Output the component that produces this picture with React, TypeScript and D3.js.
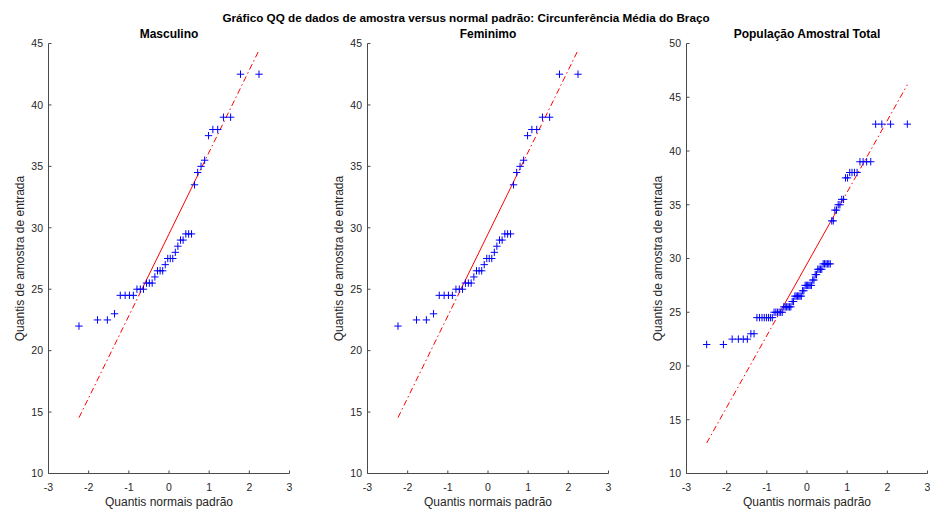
import React from "react";
import * as d3 from "d3";

// Sorted arm circumference samples (cm)
const masculinoValues = [
  22.0, 22.5, 22.5, 23.0, 24.5, 24.5, 24.5, 24.5, 25.0, 25.0,
  25.0, 25.5, 25.5, 25.5, 26.0, 26.5, 26.5, 26.5, 27.0, 27.5,
  27.5, 27.5, 28.0, 28.5, 29.0, 29.0, 29.5, 29.5, 29.5, 33.5,
  34.5, 35.0, 35.5, 37.5, 38.0, 38.0, 39.0, 39.0, 42.5, 42.5,
];
const femininoValues = [
  22.0, 22.5, 22.5, 23.0, 24.5, 24.5, 24.5, 24.5, 25.0, 25.0,
  25.0, 25.5, 25.5, 25.5, 26.0, 26.5, 26.5, 26.5, 27.0, 27.5,
  27.5, 27.5, 28.0, 28.5, 29.0, 29.0, 29.5, 29.5, 29.5, 33.5,
  34.5, 35.0, 35.5, 37.5, 38.0, 38.0, 39.0, 39.0, 42.5, 42.5,
];
// Whole sample: both groups together, sorted
const totalValues = [...masculinoValues, ...femininoValues].sort((a, b) => a - b);

// Standard normal plotting positions, (i - 0.5) / n, for n = 40
const normalQuantiles40 = [
  -2.241, -1.780, -1.534, -1.356, -1.213, -1.092, -0.985, -0.887, -0.798, -0.714,
  -0.636, -0.561, -0.489, -0.419, -0.352, -0.286, -0.221, -0.157, -0.094, -0.031,
  0.031, 0.094, 0.157, 0.221, 0.286, 0.352, 0.419, 0.489, 0.561, 0.636,
  0.714, 0.798, 0.887, 0.985, 1.092, 1.213, 1.356, 1.534, 1.780, 2.241,
];
// ... and for n = 80
const normalQuantiles80 = [
  -2.498, -2.081, -1.863, -1.709, -1.587, -1.485, -1.397, -1.318, -1.247, -1.181,
  -1.120, -1.064, -1.010, -0.959, -0.911, -0.864, -0.820, -0.776, -0.735, -0.694,
  -0.655, -0.616, -0.579, -0.543, -0.507, -0.472, -0.437, -0.402, -0.369, -0.335,
  -0.302, -0.269, -0.237, -0.205, -0.173, -0.142, -0.110, -0.078, -0.047, -0.016,
  0.016, 0.047, 0.078, 0.110, 0.142, 0.173, 0.205, 0.237, 0.269, 0.302,
  0.335, 0.369, 0.402, 0.437, 0.472, 0.507, 0.543, 0.579, 0.616, 0.655,
  0.694, 0.735, 0.776, 0.820, 0.864, 0.911, 0.959, 1.010, 1.064, 1.120,
  1.181, 1.247, 1.318, 1.397, 1.485, 1.587, 1.709, 1.863, 2.081, 2.498,
];

const panelTitles = ["Masculino", "Feminimo", "População Amostral Total"];
const xTicks = [-3, -2, -1, 0, 1, 2, 3];
const yTicksA = [10, 15, 20, 25, 30, 35, 40, 45];
const yTicksB = [10, 15, 20, 25, 30, 35, 40, 45, 50];

const mainTitle =
  "Gráfico QQ de dados de amostra versus normal padrão: Circunferência Média do Braço";
const xLabel = "Quantis normais padrão";
const yLabel = "Quantis de amostra de entrada";

const Z_QUARTILE = 0.6745; // standard normal 75th percentile

// Percentile with (i - 0.5)/n plotting positions and linear interpolation
function percentile(sorted: number[], p: number): number {
  const n = sorted.length;
  const pos = n * p + 0.5; // 1-based
  const lo = Math.floor(pos);
  const frac = pos - lo;
  const a = sorted[Math.max(0, Math.min(n - 1, lo - 1))];
  const b = sorted[Math.max(0, Math.min(n - 1, lo))];
  return a + frac * (b - a);
}

const FONT = "'Liberation Sans', Arial, Helvetica, sans-serif";
const TEXT = "#262626";
const AXIS = "#4a4a4a";

type PanelProps = {
  left: number;
  right: number;
  top: number;
  bottom: number;
  title: string;
  quantiles: number[];
  values: number[];
  yDomain: [number, number];
  yTicks: number[];
};

function Panel({ left, right, top, bottom, title, quantiles, values, yDomain, yTicks }: PanelProps) {
  const x = d3.scaleLinear().domain([-3, 3]).range([left, right]);
  const y = d3.scaleLinear().domain(yDomain).range([bottom, top]);

  const q1 = percentile(values, 0.25);
  const q3 = percentile(values, 0.75);
  const slope = (q3 - q1) / (2 * Z_QUARTILE);
  const mid = (q1 + q3) / 2;
  const fit = (z: number) => mid + slope * z;
  const zMin = d3.min(quantiles)!;
  const zMax = d3.max(quantiles)!;

  const line = d3
    .line<number>()
    .x((z) => x(z))
    .y((z) => y(fit(z)));

  const m = 3.7; // marker half size
  const cx = (left + right) / 2;
  const cy = (top + bottom) / 2;

  return (
    <g>
      {/* reference line: dash-dot over the data range, solid between quartiles */}
      <path d={line([zMin, -Z_QUARTILE])!} fill="none" stroke="#ff0000" strokeWidth={1} strokeDasharray="6,3,1.5,3" />
      <path d={line([Z_QUARTILE, zMax])!} fill="none" stroke="#ff0000" strokeWidth={1} strokeDasharray="6,3,1.5,3" />
      <path d={line([-Z_QUARTILE, Z_QUARTILE])!} fill="none" stroke="#ff0000" strokeWidth={1} />

      {/* sample points */}
      {values.map((v, i) => {
        const px = x(quantiles[i]);
        const py = y(v);
        return (
          <path
            key={i}
            d={`M${px - m},${py}H${px + m}M${px},${py - m}V${py + m}`}
            stroke="#0000ff"
            strokeWidth={1}
            fill="none"
          />
        );
      })}

      {/* axes */}
      <path d={`M${left},${top}V${bottom}H${right}`} fill="none" stroke={AXIS} strokeWidth={1} />
      {xTicks.map((t) => (
        <g key={"x" + t}>
          <line x1={x(t)} x2={x(t)} y1={bottom} y2={bottom - 3} stroke={AXIS} strokeWidth={1} />
          <text x={x(t)} y={bottom + 17} textAnchor="middle" fontSize={10.5} fill={TEXT} fontFamily={FONT}>
            {t < 0 ? "-" + Math.abs(t) : String(t)}
          </text>
        </g>
      ))}
      {yTicks.map((t) => (
        <g key={"y" + t}>
          <line x1={left} x2={left + 3} y1={y(t)} y2={y(t)} stroke={AXIS} strokeWidth={1} />
          <text x={left - 5.5} y={y(t) + 3.8} textAnchor="end" fontSize={10.5} fill={TEXT} fontFamily={FONT}>
            {t}
          </text>
        </g>
      ))}

      <text x={cx} y={38} textAnchor="middle" fontSize={12} fontWeight="bold" fill="#000" fontFamily={FONT}>
        {title}
      </text>
      <text x={cx} y={506} textAnchor="middle" fontSize={12} fill={TEXT} fontFamily={FONT}>
        {xLabel}
      </text>
      <text
        transform={`translate(${left - 24.5},${cy}) rotate(-90)`}
        textAnchor="middle"
        fontSize={12}
        fill={TEXT}
        fontFamily={FONT}
      >
        {yLabel}
      </text>
    </g>
  );
}

export default function App() {
  const top = 43.5;
  const bottom = 473.5;
  return (
    <svg
      width={930}
      height={511}
      viewBox="0 0 930 511"
      style={{ position: "absolute", left: 0, top: 0, background: "#fff" }}
    >
      <rect width={930} height={511} fill="#fff" />
      <text x={466} y={22} textAnchor="middle" fontSize={11.7} fontWeight="bold" fill="#000" fontFamily={FONT}>
        {mainTitle}
      </text>
      <Panel left={48.5} right={289.5} top={top} bottom={bottom} title={panelTitles[0]}
        quantiles={normalQuantiles40} values={masculinoValues} yDomain={[10, 45]} yTicks={yTicksA} />
      <Panel left={367.5} right={608.5} top={top} bottom={bottom} title={panelTitles[1]}
        quantiles={normalQuantiles40} values={femininoValues} yDomain={[10, 45]} yTicks={yTicksA} />
      <Panel left={686.5} right={927.5} top={top} bottom={bottom} title={panelTitles[2]}
        quantiles={normalQuantiles80} values={totalValues} yDomain={[10, 50]} yTicks={yTicksB} />
    </svg>
  );
}
